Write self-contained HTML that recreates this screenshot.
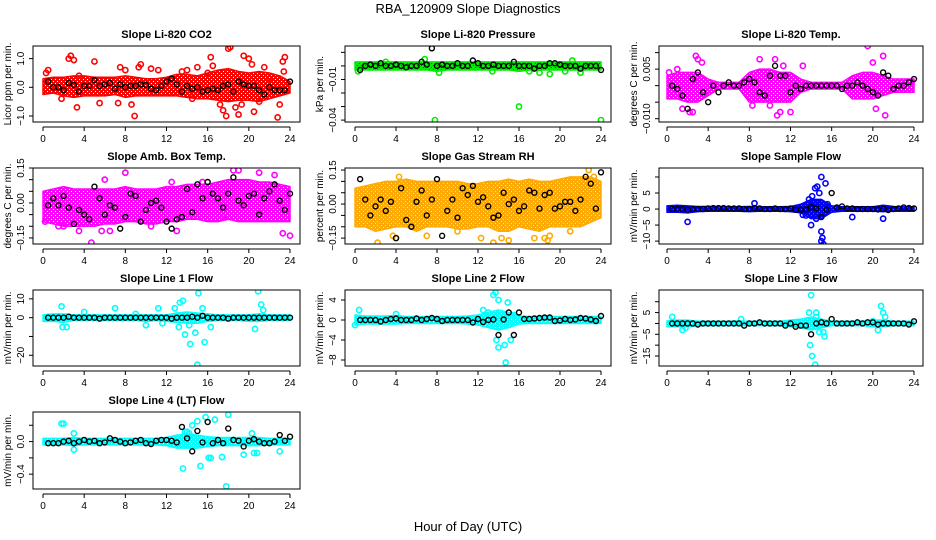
<!DOCTYPE html>
<html><head><meta charset="utf-8"><style>
html,body{margin:0;padding:0;background:#fff;}
svg{display:block;font-family:"Liberation Sans",Arial,sans-serif;}
</style></head><body>
<svg id="chart" width="936" height="540" viewBox="0 0 936 540" xmlns="http://www.w3.org/2000/svg">
<text x="468" y="13" font-size="13" text-anchor="middle">RBA_120909  Slope Diagnostics</text>
<text x="468" y="531" font-size="13" text-anchor="middle">Hour of Day (UTC)</text>
</svg>
<script>
// ---------- data ----------
const xTicks = [0,4,8,12,16,20,24];
const co2Black = [0.2,0,0,-0.1,0.15,0.08,-0.15,0.05,0.05,0.25,0.05,0.1,0.15,-0.05,0.1,0,0.05,0.05,0.1,0.08,-0.05,-0.1,0.05,0.2,0.3,0.1,-0.15,0.05,-0.05,0,-0.15,-0.1,-0.05,-0.1,0.05,0.1,-0.15,0.2,0.1,0.05,0.05,-0.1,-0.25,0,-0.1,-0.1,-0.1,0.2];
const co2Lo = [-0.25,-0.2,-0.3,-0.35,-0.3,-0.3,-0.3,-0.25,-0.35,-0.3,-0.3,-0.3,-0.3,-0.3,-0.35,-0.4,-0.4,-0.45,-0.5,-0.45,-0.45,-0.5,-0.4,-0.3,-0.2];
const co2Hi = [0.3,0.35,0.35,0.4,0.4,0.35,0.35,0.35,0.4,0.35,0.3,0.3,0.35,0.45,0.45,0.4,0.5,0.6,0.65,0.55,0.5,0.55,0.5,0.4,0.2];
const co2Out = [[0.3,0.5],[0.5,0.6],[1.8,-0.4],[2.5,1.0],[2.7,1.1],[3,0.95],[3.3,-0.7],[3.5,0.4],[5,0.9],[5.5,-0.55],[7.3,-0.55],[7.5,0.7],[8.6,-0.6],[8.9,-1.0],[9.3,0.7],[9.5,0.8],[10.5,0.65],[11.2,0.6],[13.5,0.55],[14,0.6],[14.5,-0.4],[15,0.7],[16.3,1.05],[16.5,0.75],[17.2,-0.6],[17.5,-0.8],[17.8,-1.0],[18,1.35],[18.2,1.4],[18.7,-0.7],[19,-0.95],[19.3,-0.6],[19.5,1.1],[20,1.0],[20.3,0.8],[20.5,-0.85],[21,-0.5],[21.5,0.7],[22.8,-1.05],[23,-0.6],[23.3,0.9],[23.5,1.05],[23.4,0.55],[8,0.6],[16,0.5],[22,0.3]];

const presBlack = [-0.003,0,0.001,0,0.002,0,0,0.001,0,-0.001,0,0,0.003,0.001,0.013,0,0.001,0,0,0.002,0,0,0.004,0.002,0,0,0.001,0,0,0,0.003,0,0,0,-0.002,0,0,0.002,0.002,0.001,0,0,0,-0.002,0,0,0,-0.003];
const presLo = [-0.003,-0.003,-0.003,-0.003,-0.003,-0.003,-0.003,-0.003,-0.004,-0.003,-0.003,-0.003,-0.003,-0.003,-0.003,-0.003,-0.004,-0.003,-0.003,-0.003,-0.003,-0.003,-0.003,-0.003,-0.003];
const presHi = [0.003,0.003,0.003,0.003,0.003,0.003,0.003,0.003,0.003,0.003,0.003,0.003,0.003,0.003,0.003,0.003,0.003,0.003,0.003,0.003,0.003,0.003,0.003,0.003,0.003];
const presOut = [[7.8,-0.04],[16,-0.03],[24,-0.04],[8.2,-0.005],[3,0.003],[17,-0.004],[19,-0.006],[6.8,0.005],[0.3,-0.004],[13.4,-0.004],[21.2,0.004],[20.5,-0.004],[22,-0.005],[18,-0.005]];

const tempBlack = [0,-0.001,-0.003,-0.007,0.002,0.004,-0.002,-0.005,0,-0.002,0,0.001,0,0,0.001,0.002,0.001,-0.002,-0.003,0.003,0.006,0.003,0.003,-0.002,0,-0.001,0,0,0,0,0,0,0,-0.001,0,0,0.001,0,-0.001,-0.002,-0.003,0.004,0.003,-0.001,0,0,0.001,0.002];
const tempLo = [-0.004,-0.004,-0.005,-0.005,-0.003,-0.001,-0.001,-0.001,-0.005,-0.005,-0.005,-0.005,-0.005,-0.002,-0.001,-0.001,-0.001,-0.001,-0.004,-0.004,-0.004,-0.003,-0.002,-0.002,-0.002];
const tempHi = [0.003,0.004,0.004,0.004,0.002,0.001,0.001,0.001,0.004,0.005,0.005,0.004,0.004,0.002,0.001,0.001,0.001,0.001,0.003,0.004,0.004,0.003,0.002,0.002,0.002];
const tempOut = [[1.5,-0.007],[2.2,-0.008],[2.8,0.009],[3,0.008],[3.4,0.007],[9,0.008],[10,-0.006],[10.5,0.008],[10.7,-0.009],[11,-0.008],[12,-0.008],[13.2,0.006],[19.5,0.012],[20.3,-0.007],[21,0.009],[21.2,-0.009],[20,0.007],[2.5,-0.008],[8.3,-0.006],[0.2,0.004],[1,0.005],[11.3,0.006]];

const ambBlack = [-0.01,0.02,-0.01,0.03,-0.02,-0.09,-0.03,-0.05,-0.07,0.07,0.02,-0.05,-0.01,-0.02,-0.11,-0.06,0.04,0.03,-0.08,-0.03,0,0.01,-0.02,-0.08,-0.11,-0.07,-0.06,0.06,-0.04,0.08,0.02,0.09,0.04,0.02,-0.02,0.04,0.11,0.01,-0.01,0.03,0.04,-0.05,0.02,0.05,0.08,0.01,-0.03,0.04];
const ambLo = [-0.08,-0.09,-0.1,-0.1,-0.1,-0.1,-0.09,-0.09,-0.08,-0.08,-0.09,-0.09,-0.08,-0.08,-0.07,-0.07,-0.08,-0.08,-0.07,-0.08,-0.08,-0.08,-0.08,-0.08,-0.08];
const ambHi = [0.05,0.06,0.07,0.06,0.06,0.06,0.06,0.06,0.07,0.06,0.06,0.06,0.07,0.07,0.08,0.08,0.08,0.09,0.1,0.1,0.1,0.09,0.09,0.08,0.07];
const ambOut = [[8,0.13],[4.7,-0.17],[5.7,-0.12],[18.5,0.14],[19,0.14],[23.3,-0.13],[24,-0.14],[3.5,-0.12],[0.2,-0.08],[6.5,-0.12],[17.5,-0.06],[12.5,0.09],[15.5,0.09],[1.5,-0.1],[2,-0.1],[10.5,-0.1],[13,-0.12],[21,0.13],[22.5,0.12],[6,0.1]];

const rhBlack = [0.11,0.02,-0.05,-0.01,0.02,-0.03,0.01,-0.15,0.07,-0.07,-0.1,0.01,0.06,-0.05,0.02,0.11,-0.14,-0.03,0.02,-0.06,0.07,0.04,0.08,0.01,0.03,-0.01,-0.06,-0.05,0.05,0,0.02,-0.03,-0.01,0.06,0.05,-0.02,0.04,0.05,-0.02,-0.01,0.01,0.01,-0.03,0.02,0.12,0.09,-0.02,0.14];
const rhLo = [-0.1,-0.1,-0.12,-0.11,-0.1,-0.1,-0.12,-0.1,-0.1,-0.1,-0.11,-0.11,-0.1,-0.1,-0.12,-0.12,-0.1,-0.11,-0.12,-0.1,-0.1,-0.1,-0.1,-0.08,-0.06];
const rhHi = [0.07,0.08,0.09,0.1,0.1,0.11,0.1,0.1,0.1,0.1,0.1,0.09,0.09,0.1,0.1,0.11,0.1,0.11,0.1,0.1,0.11,0.12,0.12,0.12,0.1];
const rhOut = [[2.2,-0.17],[3.7,-0.14],[4,-0.15],[7,-0.14],[12.3,-0.15],[13.5,-0.17],[14.3,-0.15],[15,-0.16],[17.5,-0.15],[18.5,-0.15],[18.8,-0.16],[19,-0.14],[21,-0.12],[22.8,0.15],[23,0.18],[23.3,0.12],[4.3,0.12],[10,-0.12]];

const sfBlack = [0,0,0,-0.2,0,0,0,0.2,0.3,0.3,0.3,0.2,0.2,0.2,0,0,0.3,0.2,0,0,0.2,0,0,0.2,-0.2,-0.2,-0.1,0.6,0.2,-2.5,-0.2,5,0.5,0.8,0.2,0.2,0,0,0,0,-0.1,0,-0.3,0,0.2,0.5,0.3,0.2];
const sfLo = [-1,-1,-1.2,-0.8,-0.7,-0.7,-0.7,-0.7,-0.8,-0.7,-0.7,-0.7,-0.8,-1.2,-3,-3,-1,-0.7,-0.7,-0.7,-0.7,-0.8,-0.7,-0.7,-0.7];
const sfHi = [1,1.2,1,0.8,0.8,0.8,0.7,0.7,0.8,0.7,0.7,0.7,0.8,1.5,3,3,1,0.7,0.7,0.7,0.7,1.2,0.8,0.7,0.7];
const sfOut = [[13.8,3],[14.1,4],[14.6,7],[14.8,5],[15,10],[15.4,8],[13.5,-2],[14,-5],[14.5,-3],[15,-7],[15.1,-9],[15.2,-11],[15,-10],[2,-4],[8.5,1.8],[18,-2.5],[21,-3],[14.3,2],[15.6,1.5],[13.2,-1.8],[14.4,6.5]];

const l1Black = [0,0,0,0,0.5,0,0,0,0,0,-0.5,0,0,0,0,0,0,0,0,0,0,0,0,0,-0.5,0,0,0,0.5,0,1,0,0,0,0,-0.5,0,0,0,0,0,0,0,0,0,0,0,0];
const l1Lo = [-2,-2,-2.5,-1.5,-1.5,-1.5,-1.5,-1.5,-1.5,-1.5,-2,-1.5,-2,-2.5,-3,-3,-2,-1.5,-1.5,-1.5,-2,-2,-1.5,-1.5,-1.5];
const l1Hi = [1.5,2,2,1.5,1.5,1.5,1.5,1.5,1.5,1.5,1.5,1.5,1.5,2.5,3,2.5,2,1.5,1.5,1.5,1.5,2,1.5,1.5,1.5];
const l1Out = [[1.8,6],[1.9,-5],[2.3,-5],[7,5],[11.2,5],[12.8,5],[13.2,-5],[13.6,9],[13.3,8],[13.8,-9],[14.3,-14],[14.8,-8],[15,-25],[15.1,13],[15.5,5],[15.7,-13],[16.3,-5],[20.6,-6],[20.9,14],[21.2,7],[21.4,4],[4,3],[10,-4],[11.6,-3],[9,2],[14.2,-4]];

const l2Black = [0,0,0,0,-0.3,0,0.2,0.3,0,0,0,0.3,0,0.2,0.4,0.2,-0.2,0,0,0,0,0,-0.5,0.2,-0.4,0,0.1,-3,0.1,1.5,-3,1.5,0.2,0.2,0.3,0.4,0.5,0.5,-0.2,-0.1,0.2,0,0.1,0.4,0.3,0.1,-0.2,0.8];
const l2Lo = [-1,-0.8,-0.8,-0.8,-0.8,-0.7,-0.7,-0.7,-0.7,-0.7,-0.7,-0.8,-1,-1.5,-2,-1.5,-0.8,-0.7,-0.7,-0.7,-0.7,-0.7,-0.7,-0.7,-0.7];
const l2Hi = [1,0.8,0.8,0.8,0.9,0.7,0.7,0.7,0.7,0.7,0.7,0.8,1,1.5,2,1.5,0.8,0.7,0.7,0.7,0.7,0.7,0.7,0.7,0.7];
const l2Out = [[0.4,2],[0,-1],[4,1.2],[13.5,5],[13.7,5.5],[14,4],[13.8,-4],[14,-5.5],[14.6,-5],[14.7,-8.5],[15,-1],[15.2,-4],[15.5,1],[14.9,3.5],[12.5,2],[13,1.5]];

const l3Black = [0,0,0,0,0,-0.5,0,0,0,0,0,0,0,0,-1,0,0,0.5,0,0,0,0,-1,0,-1.5,-1,-1,-5,0,0.5,0,2,0,0,0,0,0.5,0,0.5,0.5,-0.5,0,0,0,0,0,-0.5,1];
const l3Lo = [-1.5,-1.5,-1.5,-1,-1,-1,-1,-1,-1,-1,-1,-1,-1.5,-2,-3,-2,-1,-1,-1,-1,-1.5,-1.5,-1,-1,-1];
const l3Hi = [1.2,1.5,1.5,1,1,1,1,1.2,1,1,1,1,1.5,2,3,2,1,1,1,1,1.5,1.5,1,1,1];
const l3Out = [[0.5,3],[1.5,-3],[1.8,-2],[7.2,2],[13.8,5],[14,13],[13.9,-10],[14.1,-15],[14.4,-19],[14.5,3],[14.8,-4],[15.2,-4],[15.3,-6],[14.5,5],[20.8,8],[21,5],[21.2,3],[20.5,-3],[20,1]];

const l4Black = [-0.02,-0.02,-0.02,0,0.01,-0.02,0,0.02,0,0.01,-0.02,-0.01,0.04,0.02,0,-0.02,-0.01,0.01,0.02,-0.02,-0.03,0.01,0.02,0.02,0.01,-0.01,0.18,0.04,-0.12,0.13,-0.01,0.24,-0.02,0.02,-0.02,0.16,0.02,0.01,-0.06,0.01,0.03,0,-0.02,-0.02,0,0.08,0.01,0.06];
const l4Lo = [-0.04,-0.04,-0.04,-0.05,-0.04,-0.04,-0.04,-0.04,-0.04,-0.04,-0.04,-0.04,-0.05,-0.08,-0.08,-0.08,-0.06,-0.05,-0.05,-0.05,-0.05,-0.05,-0.04,-0.04,-0.04];
const l4Hi = [0.04,0.04,0.04,0.05,0.04,0.04,0.04,0.04,0.04,0.04,0.04,0.04,0.05,0.08,0.1,0.08,0.06,0.05,0.05,0.05,0.05,0.05,0.04,0.04,0.04];
const l4Out = [[1.8,0.22],[2,0.22],[3,0.1],[3,-0.1],[13.6,-0.33],[13.8,0.12],[14,0.12],[14.2,0.1],[15.3,-0.3],[15,0.25],[15.8,0.3],[16.3,-0.2],[16.7,0.27],[17.4,-0.19],[17.8,-0.55],[18,0.33],[19.5,-0.16],[20.3,0.1],[20.5,-0.14],[20.8,-0.14],[23,-0.12],[16.1,-0.2],[14.5,0.2]];

// ---------- panel layout ----------
const cols = [{l:33,r:300,x0:43,x24:290},{l:345,r:611,x0:355,x24:601},{l:659,r:923,x0:667,x24:914}];
const rows = [{t:46,b:122},{t:168,b:244},{t:290,b:366},{t:412,b:489}];
const panels = [
 {name:"co2",title:"Slope Li-820 CO2",ylab:"Licor ppm per min.",c:0,r:0,ymin:-1.21,ymax:1.44,ticks:[-1,0,1],labels:["\u22121.0","0.0","1.0"],color:"#ff0000",dot:"#ffffff",black:co2Black,lo:co2Lo,hi:co2Hi,out:co2Out},
 {name:"pressure",title:"Slope Li-820 Pressure",ylab:"kPa per min.",c:1,r:0,ymin:-0.0414,ymax:0.0147,ticks:[-0.04,-0.03,-0.02,-0.01,0,0.01],labels:["\u22120.04","","","\u22120.01","",""],color:"#00ee00",dot:"#006600",black:presBlack,lo:presLo,hi:presHi,out:presOut},
 {name:"li820-temp",title:"Slope Li-820 Temp.",ylab:"degrees C per min.",c:2,r:0,ymin:-0.0110,ymax:0.0120,ticks:[-0.01,-0.005,0,0.005,0.01],labels:["\u22120.010","","","0.005",""],color:"#ff00ff",dot:"#ffffff",black:tempBlack,lo:tempLo,hi:tempHi,out:tempOut},
 {name:"amb-box-temp",title:"Slope Amb. Box Temp.",ylab:"degrees C per min.",c:0,r:1,ymin:-0.176,ymax:0.150,ticks:[-0.15,-0.1,-0.05,0,0.05,0.1,0.15],labels:["\u22120.15","","","0.00","","","0.15"],color:"#ff00ff",dot:"#ffffff",black:ambBlack,lo:ambLo,hi:ambHi,out:ambOut},
 {name:"gas-stream-rh",title:"Slope Gas Stream RH",ylab:"percent per min.",c:1,r:1,ymin:-0.176,ymax:0.159,ticks:[-0.15,-0.1,-0.05,0,0.05,0.1,0.15],labels:["\u22120.15","","","0.00","","","0.15"],color:"#ffaa00",dot:"#ffff00",black:rhBlack,lo:rhLo,hi:rhHi,out:rhOut},
 {name:"sample-flow",title:"Slope Sample Flow",ylab:"mV/min per min.",c:2,r:1,ymin:-10.9,ymax:12.8,ticks:[-10,-5,0,5,10],labels:["\u221210","\u22125","0","5",""],color:"#0000ff",dot:"#3366ff",black:sfBlack,lo:sfLo,hi:sfHi,out:sfOut},
 {name:"line1-flow",title:"Slope Line 1 Flow",ylab:"mV/min per min.",c:0,r:2,ymin:-25.7,ymax:14.7,ticks:[-20,-10,0,10],labels:["\u221220","","0","10"],color:"#00ffff",dot:"#ccffff",black:l1Black,lo:l1Lo,hi:l1Hi,out:l1Out},
 {name:"line2-flow",title:"Slope Line 2 Flow",ylab:"mV/min per min.",c:1,r:2,ymin:-9.2,ymax:6.0,ticks:[-8,-4,0,4],labels:["\u22128","\u22124","0","4"],color:"#00ffff",dot:"#ccffff",black:l2Black,lo:l2Lo,hi:l2Hi,out:l2Out},
 {name:"line3-flow",title:"Slope Line 3 Flow",ylab:"mV/min per min.",c:2,r:2,ymin:-19.6,ymax:15.4,ticks:[-15,-10,-5,0,5,10],labels:["\u221215","","\u22125","","5",""],color:"#00ffff",dot:"#ccffff",black:l3Black,lo:l3Lo,hi:l3Hi,out:l3Out},
 {name:"line4-flow",title:"Slope Line 4 (LT) Flow",ylab:"mV/min per min.",c:0,r:3,ymin:-0.582,ymax:0.363,ticks:[-0.4,-0.2,0,0.2],labels:["\u22120.4","","0.0",""],color:"#00ffff",dot:"#ccffff",black:l4Black,lo:l4Lo,hi:l4Hi,out:l4Out}
];

const NS="http://www.w3.org/2000/svg";
const svg=document.getElementById('chart');
function mk(tag,attrs,parent){const e=document.createElementNS(NS,tag);for(const k in attrs)e.setAttribute(k,attrs[k]);(parent||svg).appendChild(e);return e;}
const defs=mk('defs',{});

panels.forEach(p=>{
  const C=cols[p.c],R=rows[p.r];
  const g=mk('g',{});
  
  
  const xs=h=>C.x0+(h/24)*(C.x24-C.x0);
  const ys=v=>R.b-(v-p.ymin)/(p.ymax-p.ymin)*(R.b-R.t);
  const clip='clip-'+p.name;
  const cp=mk('clipPath',{id:clip},defs);
  mk('rect',{x:C.l,y:R.t,width:C.r-C.l,height:R.b-R.t},cp);
  const pat=mk('pattern',{id:'pat-'+p.name,width:4,height:4,patternUnits:'userSpaceOnUse'},defs);
  mk('rect',{x:0,y:0,width:4,height:4,fill:p.color},pat);
  mk('rect',{x:1,y:1,width:1,height:1,fill:p.dot},pat);
  mk('rect',{x:3,y:3,width:1,height:1,fill:p.dot},pat);
  const plot=mk('g',{'clip-path':'url(#'+clip+')'},g);
  // band (dense cloud of points)
  let pts=[];
  p.hi.forEach((v,i)=>pts.push(xs(i)+','+ys(v)));
  for(let i=p.lo.length-1;i>=0;i--)pts.push(xs(i)+','+ys(p.lo[i]));
  const band=mk('polygon',{points:pts.join(' '),fill:'url(#pat-'+p.name+')',stroke:p.color,'stroke-width':1.5,'stroke-linejoin':'round'},plot);
  
  
  // outliers
  p.out.forEach(o=>{
    const c=mk('circle',{cx:xs(o[0]),cy:ys(o[1]),r:2.6,fill:'none',stroke:p.color,'stroke-width':1.6},plot);
    
    
  });
  // black series
  const n=p.black.length;
  p.black.forEach((v,i)=>{
    const h=(i+1)*24/n;
    const c=mk('circle',{cx:xs(h),cy:ys(v),r:2.5,fill:'none',stroke:'#000','stroke-width':1.4},plot);
    
    
  });
  // box
  const box=mk('rect',{x:C.l,y:R.t,width:C.r-C.l,height:R.b-R.t,fill:'none',stroke:'#000','stroke-width':1},g);
  
  
  // title
  const t=mk('text',{x:(C.l+C.r)/2,y:R.t-8,'font-size':11,'font-weight':'bold','text-anchor':'middle'},g);
  t.textContent=p.title;
  
  
  // x axis
  const ay=R.b+5;
  mk('line',{x1:xs(0),x2:xs(24),y1:ay,y2:ay,stroke:'#000'},g);
  xTicks.forEach(h=>{
    mk('line',{x1:xs(h),x2:xs(h),y1:ay,y2:ay+4,stroke:'#000'},g);
    const tl=mk('text',{x:xs(h),y:ay+15,'font-size':10,'text-anchor':'middle'},g);
    tl.textContent=h;
    
    
  });
  // y axis
  const tv=p.ticks.filter(v=>v>=p.ymin&&v<=p.ymax);
  mk('line',{x1:C.l,x2:C.l,y1:ys(tv[0]),y2:ys(tv[tv.length-1]),stroke:'#000'},g);
  p.ticks.forEach((v,i)=>{
    if(v<p.ymin||v>p.ymax)return;
    mk('line',{x1:C.l-4,x2:C.l,y1:ys(v),y2:ys(v),stroke:'#000'},g);
    if(p.labels[i]){
      const tx=C.l-9,ty=ys(v);
      const tl=mk('text',{x:tx,y:ty,'font-size':10,'text-anchor':'middle',transform:'rotate(-90 '+tx+' '+ty+')'},g);
      tl.textContent=p.labels[i];
      
      
    }
  });
  const lx=C.l-22,ly=(R.t+R.b)/2;
  const yl=mk('text',{x:lx,y:ly,'font-size':10,'text-anchor':'middle',transform:'rotate(-90 '+lx+' '+ly+')'},g);
  yl.textContent=p.ylab;
  
  
});
</script>
</body></html>
